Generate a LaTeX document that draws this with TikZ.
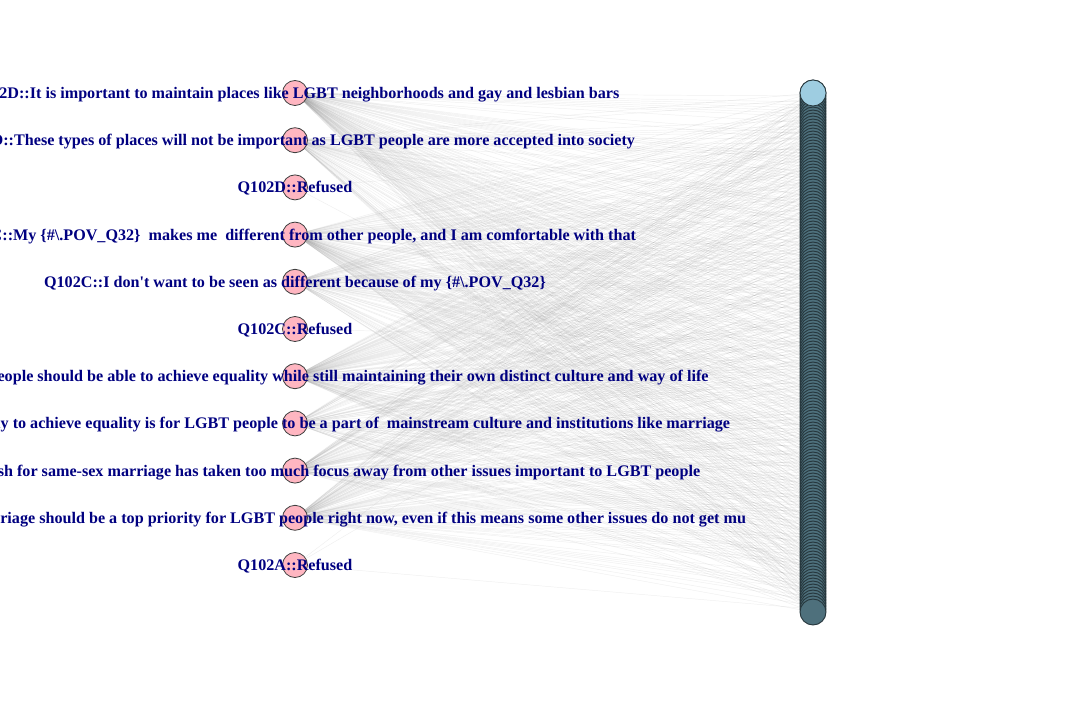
\documentclass[tikz,border=0pt]{standalone}
\usepackage{fontspec}
\setmainfont{Liberation Serif}
\pgfdeclarelayer{bg}
\pgfsetlayers{bg,main}
\definecolor{lnavy}{RGB}{0,0,128}
\definecolor{lpink}{RGB}{255,182,193}
\definecolor{lblue}{RGB}{158,205,225}
\definecolor{dslate}{RGB}{38,54,60}
\definecolor{mteal}{RGB}{78,112,124}
\begin{document}
\begin{tikzpicture}[x=0.75pt,y=-0.75pt,
  lnode/.style={circle,draw=black!75,fill=lpink,line width=0.6pt,minimum size=18.75pt,inner sep=0pt},
  rnode/.style={circle,draw=dslate,fill=mteal,line width=0.7pt,minimum size=19.5pt,inner sep=0pt},
  topnode/.style={circle,draw=dslate,fill=lblue,line width=0.6pt,minimum size=19.5pt,inner sep=0pt},
  edge/.style={draw=gray,opacity=0.13,line width=0.35pt},
  lab/.style={text=lnavy,font=\bfseries\fontsize{12.1}{14}\selectfont,inner sep=0pt,anchor=base}]
\clip (0,0) rectangle (1080,720);
% left nodes
\foreach \i in {0,...,10}{
  \node[lnode] (L\i) at (295,{93+47.2*\i}) {};
}
% right nodes
\foreach \j in {0,...,173}{
  \node[rnode] (R\j) at (813,{93+3*\j}) {};
}
\node[topnode] (Rtop) at (R0) {};
% edges
\begin{pgfonlayer}{bg}
\pgfmathsetseed{7}
\foreach \j in {0,...,173}{
  \pgfmathsetmacro{\ra}{rnd}
  \pgfmathtruncatemacro{\a}{ifthenelse(\ra<0.012,2,ifthenelse(\ra<0.6,0,1))}
  \pgfmathsetmacro{\rb}{rnd}
  \pgfmathtruncatemacro{\b}{ifthenelse(\rb<0.012,5,ifthenelse(\rb<0.55,3,4))}
  \pgfmathsetmacro{\rc}{rnd}
  \pgfmathtruncatemacro{\c}{ifthenelse(\rc<0.6,6,7)}
  \pgfmathsetmacro{\rd}{rnd}
  \pgfmathtruncatemacro{\d}{ifthenelse(\rd<0.02,10,ifthenelse(\rd<0.55,9,8))}
  \draw[edge] (L\a.center) -- (R\j.center);
  \draw[edge] (L\b.center) -- (R\j.center);
  \draw[edge] (L\c.center) -- (R\j.center);
  \draw[edge] (L\d.center) -- (R\j.center);
}
\end{pgfonlayer}
% labels
\node[lab] (T0) at ([yshift=-5.5*0.75pt]L0.center) {Q102D::It is important to maintain places like LGBT neighborhoods and gay and lesbian bars};
\node[lab] (T1) at ([yshift=-5.5*0.75pt]L1.center) {Q102D::These types of places will not be important as LGBT people are more accepted into society};
\node[lab] (T2) at ([yshift=-5.5*0.75pt]L2.center) {Q102D::Refused};
\node[lab] (T3) at ([yshift=-5.5*0.75pt]L3.center) {Q102C::My \{\#\textbackslash.POV\_Q32\}\ \ makes me\ \ different from other people, and I am comfortable with that};
\node[lab] (T4) at ([yshift=-5.5*0.75pt]L4.center) {Q102C::I don\textquotesingle t want to be seen as different because of my \{\#\textbackslash.POV\_Q32\}};
\node[lab] (T5) at ([yshift=-5.5*0.75pt]L5.center) {Q102C::Refused};
\node[lab] (T6) at ([yshift=-5.5*0.75pt]L6.center) {Q102B::LGBT people should be able to achieve equality while still maintaining their own distinct culture and way of life};
\node[lab] (T7) at ([yshift=-5.5*0.75pt]L7.center) {Q102B::The best way to achieve equality is for LGBT people to be a part of\ \ mainstream culture and institutions like marriage};
\node[lab] (T8) at ([yshift=-5.5*0.75pt]L8.center) {Q102A::The push for same-sex marriage has taken too much focus away from other issues important to LGBT people};
\node[lab] (T9) at ([yshift=-5.5*0.75pt]L9.center) {Q102A::Same-sex marriage should be a top priority for LGBT people right now, even if this means some other issues do not get mu};
\node[lab] (T10) at ([yshift=-5.5*0.75pt]L10.center) {Q102A::Refused};
\end{tikzpicture}
\end{document}
